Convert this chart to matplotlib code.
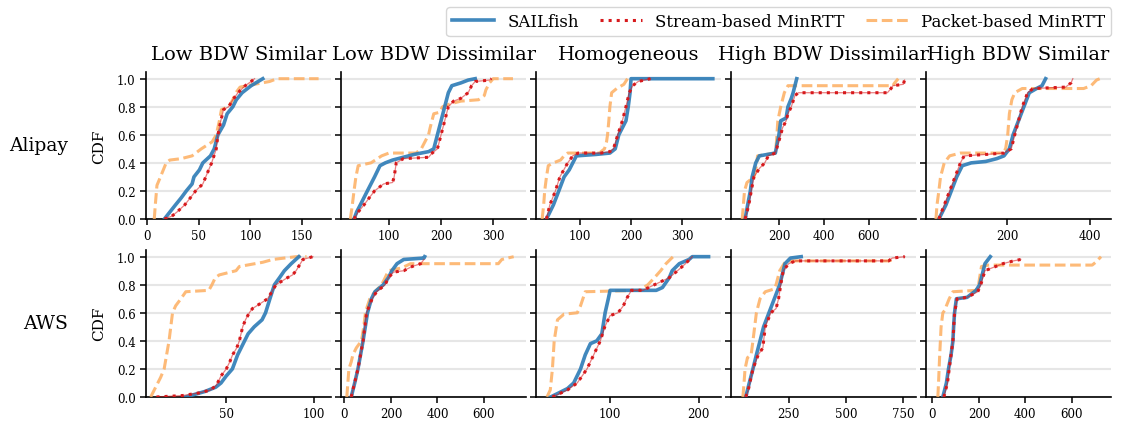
import matplotlib
matplotlib.use("Agg")
import matplotlib.pyplot as plt
from matplotlib.lines import Line2D

plt.rcParams["font.family"] = "serif"
plt.rcParams["font.serif"] = ["DejaVu Serif"]

# scenario titles (columns) and providers (rows)
scenarios = ["Low BDW Similar", "Low BDW Dissimilar", "Homogeneous",
             "High BDW Dissimilar", "High BDW Similar"]
providers = ["Alipay", "AWS"]
methods = ["SAILfish", "Stream-based MinRTT", "Packet-based MinRTT"]

# CDF curves: (RTT, CDF) breakpoints, one list per panel
alipay_sailfish = [
    [(16.8, 0), (20, 0.03), (27.5, 0.1), (33, 0.15), (38, 0.2), (43.6, 0.25), (45.4, 0.3), (50.7, 0.35),
     (54, 0.4), (61.4, 0.45), (65, 0.5), (68.6, 0.6), (74, 0.67), (77.5, 0.75), (83, 0.8), (86.4, 0.85),
     (92, 0.9), (100.7, 0.95), (112, 1.0)],
    [(33, 0), (38, 0.05), (45, 0.1), (58.6, 0.2), (72.4, 0.3), (82.8, 0.38), (93, 0.4), (107, 0.42),
     (127.6, 0.44), (148, 0.46), (162, 0.47), (176, 0.48), (186, 0.5), (193, 0.6), (200, 0.7), (207, 0.8),
     (214, 0.9), (220.7, 0.95), (238, 0.97), (252, 0.99), (265.5, 1.0)],
    [(34.5, 0), (48, 0.1), (58.6, 0.2), (69, 0.3), (79, 0.35), (86, 0.4), (93, 0.45), (131, 0.46),
     (158.6, 0.47), (169, 0.5), (176, 0.6), (183, 0.65), (190, 0.7), (194.5, 0.8), (198, 0.9), (200, 1.0),
     (360, 1.0)],
    [(50, 0), (61, 0.1), (73, 0.2), (81, 0.3), (97, 0.4), (113, 0.45), (184, 0.47), (200, 0.6), (208, 0.7),
     (232, 0.72), (240, 0.8), (255, 0.86), (263, 0.9), (271, 0.95), (279, 1.0)],
    [(36, 0), (53, 0.1), (66, 0.2), (79, 0.3), (92.5, 0.38), (114, 0.4), (149, 0.41), (175.5, 0.43),
     (193, 0.45), (206, 0.5), (215, 0.6), (228, 0.7), (241, 0.8), (254, 0.9), (271.6, 0.93), (284.7, 0.95),
     (293.4, 1.0)],
]
alipay_stream = [
    [(16.8, 0), (24, 0.02), (29, 0.05), (36.4, 0.1), (41.8, 0.15), (47, 0.2), (54, 0.25), (56.8, 0.3),
     (62.5, 0.4), (67, 0.5), (68.6, 0.6), (71.4, 0.7), (74, 0.78), (79, 0.8), (83, 0.85), (88, 0.9),
     (95, 0.95), (100.7, 0.98), (104, 1.0)],
    [(33, 0), (41, 0.05), (52, 0.1), (62, 0.15), (72.4, 0.2), (89.7, 0.25), (107, 0.26), (110, 0.3),
     (114, 0.4), (127.6, 0.43), (176, 0.44), (183, 0.47), (193, 0.5), (200, 0.6), (207, 0.7), (214, 0.8),
     (224, 0.84), (238, 0.86), (252, 0.9), (258.6, 0.95), (265.5, 0.98), (293, 0.99), (296.5, 1.0)],
    [(34.5, 0), (41, 0.1), (52, 0.2), (60.7, 0.3), (76, 0.4), (86, 0.45), (96.5, 0.47), (141, 0.47),
     (158.6, 0.48), (165.5, 0.5), (174, 0.6), (183, 0.7), (190, 0.8), (196.5, 0.9), (203, 0.95),
     (214, 0.98), (238, 1.0)],
    [(50, 0), (66, 0.1), (77, 0.2), (89, 0.3), (113, 0.36), (137, 0.4), (153, 0.45), (184, 0.47),
     (208, 0.6), (216, 0.65), (232, 0.7), (240, 0.75), (255, 0.8), (271, 0.88), (287, 0.9), (682, 0.9),
     (698, 0.93), (706, 0.95), (753, 0.96), (758, 0.99)],
    [(36, 0), (49, 0.1), (62, 0.2), (75, 0.3), (88, 0.4), (97, 0.45), (149, 0.46), (193, 0.47),
     (210.5, 0.5), (219, 0.6), (228, 0.7), (237, 0.8), (250, 0.9), (263, 0.93), (341.5, 0.94),
     (354.6, 0.97), (359, 1.0)],
]
alipay_packet = [
    [(7, 0), (8, 0.1), (9.6, 0.24), (13, 0.3), (18.5, 0.4), (22, 0.42), (33, 0.43), (43.6, 0.45),
     (52.5, 0.5), (63, 0.55), (67, 0.6), (70, 0.7), (72, 0.78), (79, 0.8), (83, 0.85), (86, 0.9),
     (90, 0.94), (104, 0.96), (118.6, 0.98), (125.7, 1.0), (166, 1.0)],
    [(26, 0), (29.7, 0.1), (33, 0.2), (36.6, 0.3), (41, 0.38), (65.5, 0.4), (86, 0.45), (100, 0.47),
     (152, 0.47), (162, 0.5), (169, 0.55), (176, 0.6), (179, 0.65), (186, 0.75), (196.5, 0.76),
     (203, 0.8), (217, 0.82), (238, 0.84), (272, 0.85), (283, 0.88), (286, 0.92), (293, 0.97),
     (300, 1.0), (338, 1.0)],
    [(26, 0), (29, 0.1), (31, 0.2), (34.5, 0.3), (38, 0.38), (48, 0.4), (62, 0.42), (69, 0.45), (76, 0.47),
     (138, 0.47), (148, 0.5), (152, 0.55), (154, 0.6), (156.5, 0.7), (158.6, 0.8), (162, 0.9), (172, 0.93),
     (186, 0.96), (193, 1.0)],
    [(37, 0), (42, 0.1), (47, 0.2), (58, 0.26), (89, 0.3), (97, 0.35), (105, 0.45), (184, 0.47),
     (189, 0.55), (195, 0.7), (208, 0.8), (216, 0.85), (224, 0.9), (240, 0.95), (706, 0.95), (714, 0.97),
     (730, 1.0)],
    [(29, 0), (31.5, 0.1), (36, 0.2), (40, 0.3), (49, 0.4), (62, 0.45), (88, 0.47), (189, 0.47),
     (197, 0.5), (202, 0.6), (206, 0.75), (212, 0.85), (219, 0.9), (237, 0.93), (385, 0.93), (403, 0.95),
     (416, 0.99), (424, 1.0)],
]

aws_sailfish = [
    [(26.8, 0), (38, 0.04), (44, 0.07), (47, 0.1), (50, 0.15), (53.5, 0.2), (56.5, 0.3), (58.5, 0.35),
     (62.5, 0.45), (66, 0.5), (70.5, 0.55), (72.5, 0.6), (75, 0.7), (77.6, 0.8), (80.5, 0.85),
     (83.3, 0.9), (87.2, 0.95), (91.6, 1.0)],
    [(29, 0), (44, 0.1), (58, 0.2), (80, 0.4), (99, 0.6), (116, 0.7), (131, 0.75), (153, 0.78),
     (167, 0.8), (189, 0.85), (204, 0.9), (226, 0.95), (255, 0.98), (342, 0.99), (345, 1.0)],
    [(33, 0), (42.6, 0.03), (52, 0.06), (59, 0.1), (66.7, 0.2), (72, 0.3), (77.8, 0.38), (85, 0.4),
     (90.7, 0.45), (94.4, 0.6), (98, 0.7), (100, 0.76), (152, 0.76), (159, 0.78), (166.7, 0.85),
     (170, 0.9), (178, 0.95), (189, 0.98), (192.6, 1.0), (211, 1.0)],
    [(62.5, 0), (78, 0.1), (94, 0.2), (109, 0.3), (125, 0.4), (140.6, 0.5), (164, 0.6), (187.5, 0.7),
     (211, 0.8), (226.6, 0.9), (234, 0.95), (258, 0.99), (305, 1.0)],
    [(44.6, 0), (60, 0.1), (69, 0.2), (80, 0.3), (88, 0.4), (91, 0.5), (95, 0.6), (103, 0.7), (149, 0.71),
     (164.6, 0.73), (188, 0.76), (203, 0.8), (218.5, 0.9), (226, 0.95), (249, 1.0)],
]
aws_stream = [
    [(10, 0), (25, 0.01), (35, 0.03), (41, 0.05), (44, 0.08), (45, 0.1), (47, 0.15), (50, 0.2), (52, 0.25),
     (53.6, 0.3), (56, 0.35), (57.5, 0.4), (59.4, 0.5), (61, 0.55), (63.2, 0.6), (65, 0.63), (70, 0.67),
     (73.7, 0.7), (78.5, 0.8), (85, 0.85), (88, 0.87), (90, 0.9), (93.9, 0.98), (99.6, 1.0)],
    [(29, 0), (58, 0.2), (80, 0.4), (95, 0.6), (119, 0.7), (138, 0.75), (175, 0.8), (189, 0.85),
     (211, 0.89), (255, 0.9), (291, 0.93), (328, 0.95), (342, 0.98)],
    [(35, 0), (52, 0.05), (63, 0.1), (74, 0.2), (81.5, 0.3), (89, 0.4), (94, 0.5), (100, 0.58), (109, 0.6),
     (115, 0.65), (118.5, 0.7), (124, 0.76), (137, 0.76), (150, 0.8), (166.7, 0.85), (176, 0.9),
     (185, 0.95), (192.6, 1.0)],
    [(62.5, 0), (73.6, 0.05), (94, 0.2), (117, 0.3), (137.5, 0.35), (140.6, 0.4), (148, 0.5), (172, 0.6),
     (195, 0.63), (206, 0.7), (215.6, 0.8), (226.6, 0.9), (250, 0.95), (281, 0.97), (687.5, 0.97),
     (703, 0.99), (758, 1.0)],
    [(49, 0), (64.6, 0.1), (72, 0.2), (88, 0.4), (95, 0.6), (106, 0.7), (149, 0.71), (195, 0.75),
     (208, 0.8), (226, 0.9), (272, 0.93), (303, 0.95), (349, 0.97), (380, 0.98)],
]
aws_packet = [
    [(6.7, 0), (12.4, 0.14), (14.4, 0.2), (17.2, 0.4), (19.2, 0.6), (21, 0.65), (24, 0.7), (26.8, 0.75),
     (40, 0.76), (41.8, 0.8), (43.7, 0.85), (46, 0.87), (55.6, 0.9), (57.5, 0.93), (70.9, 0.96),
     (76.6, 0.98), (90, 1.0), (96, 1.0)],
    [(10, 0), (19, 0.2), (29, 0.25), (36, 0.3), (51, 0.35), (73, 0.4), (83, 0.5), (90, 0.6), (99, 0.65),
     (109, 0.7), (131, 0.75), (160, 0.8), (175, 0.85), (189, 0.9), (247, 0.92), (284, 0.95), (662, 0.95),
     (677, 0.98), (728, 1.0)],
    [(28.9, 0), (32.6, 0.05), (35, 0.2), (37, 0.4), (40.7, 0.55), (48, 0.59), (63, 0.6), (66.7, 0.65),
     (72, 0.75), (133, 0.76), (142.6, 0.8), (150, 0.85), (157, 0.9), (163, 0.95), (171, 1.0)],
    [(50, 0), (55, 0.1), (59.4, 0.2), (70, 0.28), (86, 0.3), (94, 0.4), (109, 0.6), (125, 0.7),
     (148, 0.75), (187.5, 0.77), (195, 0.8), (211, 0.9), (234, 0.96), (265.6, 0.97), (687.5, 0.97),
     (711, 0.98)],
    [(23, 0), (26, 0.1), (31, 0.3), (37, 0.5), (44.6, 0.6), (54, 0.62), (60, 0.65), (72, 0.7), (88, 0.75),
     (188, 0.76), (198.5, 0.8), (203, 0.85), (211, 0.93), (241.5, 0.94), (688, 0.94), (703, 0.96),
     (726, 1.0)],
]

# x ranges and ticks for each panel
alipay_xlim = [(-1, 178), (8, 363), (14, 376), (-13, 809), (5, 451)]
aws_xlim = [(4, 110), (-15, 781), (16.5, 225), (-2, 807), (-28, 769)]
alipay_xticks = [[0, 50, 100, 150], [100, 200, 300], [100, 200, 300], [200, 400, 600], [200, 400]]
aws_xticks = [[50, 100], [0, 200, 400, 600], [100, 200], [250, 500, 750], [0, 200, 400, 600]]
cdf_ticks = [0.0, 0.2, 0.4, 0.6, 0.8, 1.0]

c_sail = "#2c7bb6"
c_stream = "#d7191c"
c_packet = "#fdae61"

fig = plt.figure(figsize=(11.22, 4.27), dpi=100)

rows = [
    (alipay_sailfish, alipay_stream, alipay_packet, alipay_xlim, alipay_xticks),
    (aws_sailfish, aws_stream, aws_packet, aws_xlim, aws_xticks),
]
row_bottoms = [0.4848, 0.068]
lefts = [146, 341, 536, 731, 926]

for r, (sail, stream, packet, xlims, xticks) in enumerate(rows):
    for c in range(5):
        ax = fig.add_axes([lefts[c] / 1122, row_bottoms[r], 185 / 1122, 0.345])
        xs, ys = zip(*packet[c])
        ax.plot(xs, ys, color=c_packet, lw=2.2, ls=(0, (3.5, 1.5)), alpha=0.85, zorder=3)
        xs, ys = zip(*sail[c])
        ax.plot(xs, ys, color=c_sail, lw=2.6, alpha=0.9, zorder=4)
        xs, ys = zip(*stream[c])
        ax.plot(xs, ys, color=c_stream, lw=0.9, alpha=0.55, zorder=5)
        ax.plot(xs, ys, color=c_stream, lw=2.2, ls=":", zorder=5)

        ax.set_xlim(*xlims[c])
        ax.set_ylim(0, 1.05)
        ax.set_xticks(xticks[c])
        ax.set_yticks(cdf_ticks)
        ax.grid(axis="y", color="#e6e6e6", lw=1.5, zorder=0)
        ax.set_axisbelow(True)
        for s in ["top", "right"]:
            ax.spines[s].set_visible(False)
        ax.spines["left"].set_linewidth(1.2)
        ax.spines["bottom"].set_linewidth(1.2)
        ax.tick_params(labelsize=8.5, length=4, width=1.1)
        if c == 0:
            ax.set_ylabel("CDF", fontsize=11, labelpad=8)
            ax.text(-0.42, 0.5, providers[r], transform=ax.transAxes, fontsize=13.5,
                    ha="right", va="center")
        else:
            ax.set_yticklabels([])
        if r == 0:
            ax.set_title(scenarios[c], fontsize=14, pad=9)

handles = [
    Line2D([], [], color=c_sail, lw=2.6, alpha=0.9),
    Line2D([], [], color=c_stream, lw=2.2, ls=":"),
    Line2D([], [], color=c_packet, lw=2.2, ls=(0, (3.5, 1.5)), alpha=0.85),
]
fig.legend(handles, methods, loc="upper right", bbox_to_anchor=(0.998, 1.0), ncol=3,
           fontsize=12, columnspacing=1.3, handlelength=2.5, borderpad=0.35)

fig.savefig("out.png", dpi=100)
